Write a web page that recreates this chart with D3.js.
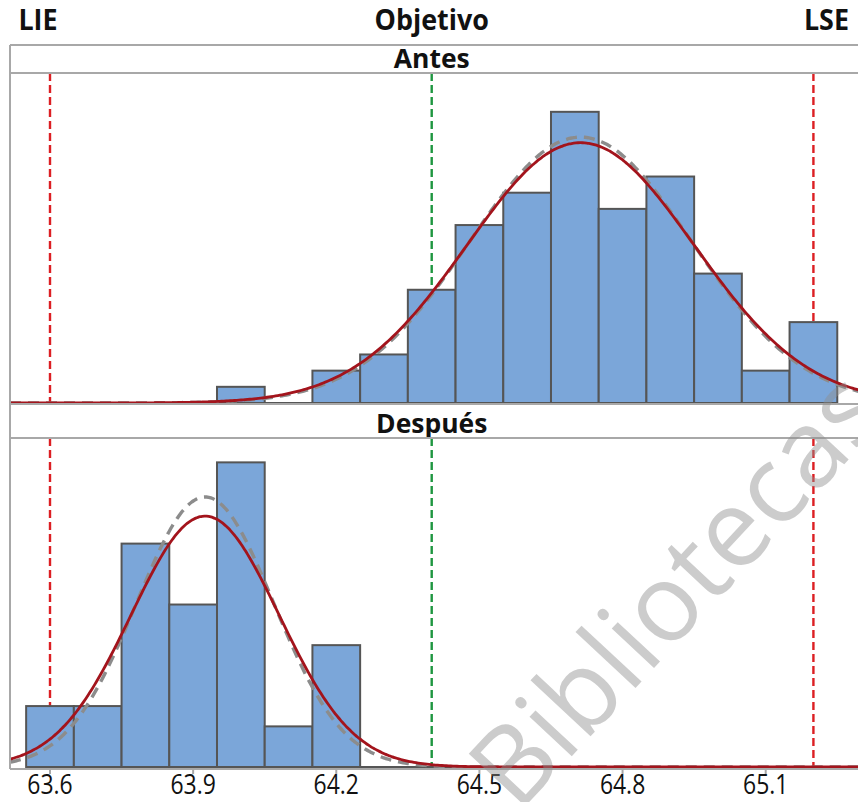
<!DOCTYPE html>
<html>
<head>
<meta charset="utf-8">
<script src="https://cdn.jsdelivr.net/npm/d3@7"></script>
<style>
  body { margin: 0; background: #ffffff; }
  svg { display: block; }
</style>
</head>
<body>
<svg id="chart" width="858" height="802"></svg>
<script>
// ---- data -------------------------------------------------------------
const binCenters    = [63.6, 63.7, 63.8, 63.9, 64.0, 64.1, 64.2, 64.3, 64.4,
                       64.5, 64.6, 64.7, 64.8, 64.9, 65.0, 65.1, 65.2];
const antesCounts   = [0, 0, 0, 0, 1, 0, 2, 3, 7, 11, 13, 18, 12, 14, 8, 2, 5];
const despuesCounts = [3, 3, 11, 8, 15, 2, 6, 0, 0, 0, 0, 0, 0, 0, 0, 0, 0];
const binWidth = 0.1;

const panelNames   = ["Antes", "Después"];
const fitMeans     = [64.712, 63.925];   // media de cada proceso
const fitSdOverall = [0.238, 0.155];     // desviación estándar general (línea continua)
const fitSdWithin  = [0.233, 0.144];     // desviación estándar dentro (línea discontinua)
const countMaxima  = [20.4, 16.2];       // tope del eje de frecuencias de cada panel

const specNames  = ["LIE", "Objetivo", "LSE"];
const specValues = [63.6, 64.4, 65.2];
const tickValues = [63.6, 63.9, 64.2, 64.5, 64.8, 65.1];
const watermarkText = "Bibliotecas";

// ---- layout -----------------------------------------------------------
const svg = d3.select("#chart");
const frameLeft = 10, frameRight = 874;
const frameColor = "#a8a8a8";
const barFill = "#7ba6d9", barStroke = "#555555";
const redSolid = "#a3141c", grayDash = "#8c8c8c";
const specColors = ["#dc1f23", "#1e9640", "#dc1f23"];

const x = d3.scaleLinear().domain([63.6, 65.1]).range([50, 765.7]);

const panels = [
  { stripTop: 45,  plotTop: 73,  plotBottom: 404, counts: antesCounts },
  { stripTop: 404, plotTop: 438, plotBottom: 768, counts: despuesCounts }
];

function squeezedText(parent, px, py, str, size, weight, squeeze) {
  return parent.append("text")
    .attr("transform", `translate(${px},${py}) scale(${squeeze},1)`)
    .attr("text-anchor", "middle")
    .attr("font-family", "'Open Sans', 'Noto Sans', sans-serif")
    .attr("font-size", size)
    .attr("font-weight", weight)
    .attr("fill", "#111")
    .text(str);
}

function normalCurve(mean, sd, n) {
  const lo = x.invert(frameLeft), hi = x.invert(frameRight);
  return d3.range(0, 401).map(i => {
    const v = lo + (hi - lo) * i / 400;
    const z = (v - mean) / sd;
    return [v, n * binWidth * Math.exp(-0.5 * z * z) / (sd * Math.sqrt(2 * Math.PI))];
  });
}

const defs = svg.append("defs");

panels.forEach((p, i) => {
  const y = d3.scaleLinear().domain([0, countMaxima[i]]).range([p.plotBottom - 1, p.plotTop]);
  const g = svg.append("g");

  // clip for the plot area of this panel
  defs.append("clipPath").attr("id", "clip" + i)
    .append("rect")
    .attr("x", frameLeft).attr("y", p.plotTop)
    .attr("width", frameRight - frameLeft).attr("height", p.plotBottom - p.plotTop);

  // strip with the panel name
  squeezedText(g, x(64.4), p.plotTop - 5, panelNames[i], 27, 700, 0.98);

  // specification limits and target
  specValues.forEach((s, k) => {
    g.append("line")
      .attr("x1", x(s)).attr("x2", x(s))
      .attr("y1", p.plotTop).attr("y2", p.plotBottom)
      .attr("stroke", specColors[k]).attr("stroke-width", 2.4)
      .attr("stroke-dasharray", "8,4");
  });

  // histogram: empty bins are drawn as a line along the base
  const lo = binCenters[0] - binWidth / 2;
  const hi = binCenters[binCenters.length - 1] + binWidth / 2;
  g.append("line")
    .attr("x1", x(lo)).attr("x2", x(hi))
    .attr("y1", y(0)).attr("y2", y(0))
    .attr("stroke", barStroke).attr("stroke-width", 2);

  const bars = binCenters.map((c, k) => ({ c, n: p.counts[k] })).filter(d => d.n > 0);
  g.selectAll("rect.bar").data(bars).enter().append("rect")
    .attr("class", "bar")
    .attr("x", d => x(d.c - binWidth / 2))
    .attr("y", d => y(d.n))
    .attr("width", d => x(d.c + binWidth / 2) - x(d.c - binWidth / 2))
    .attr("height", d => y(0) - y(d.n))
    .attr("fill", barFill).attr("stroke", barStroke).attr("stroke-width", 2);

  // fitted normal curves
  const n = d3.sum(p.counts);
  const line = d3.line().x(d => x(d[0])).y(d => y(d[1])).curve(d3.curveBasis);
  const curves = g.append("g").attr("clip-path", `url(#clip${i})`);
  curves.append("path")
    .attr("d", line(normalCurve(fitMeans[i], fitSdWithin[i], n)))
    .attr("fill", "none").attr("stroke", grayDash).attr("stroke-width", 3.4)
    .attr("stroke-dasharray", "11,7");
  curves.append("path")
    .attr("d", line(normalCurve(fitMeans[i], fitSdOverall[i], n)))
    .attr("fill", "none").attr("stroke", redSolid).attr("stroke-width", 2.8);

  // panel frame lines
  [p.stripTop, p.plotTop].forEach(yy => {
    g.append("line")
      .attr("x1", frameLeft).attr("x2", frameRight)
      .attr("y1", yy).attr("y2", yy)
      .attr("stroke", frameColor).attr("stroke-width", 2);
  });
  g.append("line")
    .attr("x1", frameLeft).attr("x2", frameLeft)
    .attr("y1", p.stripTop).attr("y2", p.plotBottom + 1)
    .attr("stroke", frameColor).attr("stroke-width", 2);
});

// bottom axis
const axisY = 769;
svg.append("line")
  .attr("x1", frameLeft).attr("x2", frameRight)
  .attr("y1", axisY).attr("y2", axisY)
  .attr("stroke", frameColor).attr("stroke-width", 2);
const axisG = svg.append("g");
tickValues.forEach(t => {
  axisG.append("line")
    .attr("x1", x(t)).attr("x2", x(t))
    .attr("y1", axisY).attr("y2", axisY + 5)
    .attr("stroke", frameColor).attr("stroke-width", 2);
  squeezedText(axisG, x(t), 794, d3.format(".1f")(t), 27, 400, 0.85);
});

// reference labels above the panels
const specOffsets = [-12, 0, 13];
specNames.forEach((s, k) => {
  squeezedText(svg, x(specValues[k]) + specOffsets[k], 30, s, 28, 700, 0.96);
});

// watermark
svg.append("text")
  .attr("transform", "translate(518,814) rotate(-47)")
  .attr("font-family", "'Open Sans', 'Noto Sans', sans-serif")
  .attr("font-size", 108)
  .attr("fill", "#8f8f8f")
  .attr("fill-opacity", 0.45)
  .text(watermarkText);
</script>
</body>
</html>
